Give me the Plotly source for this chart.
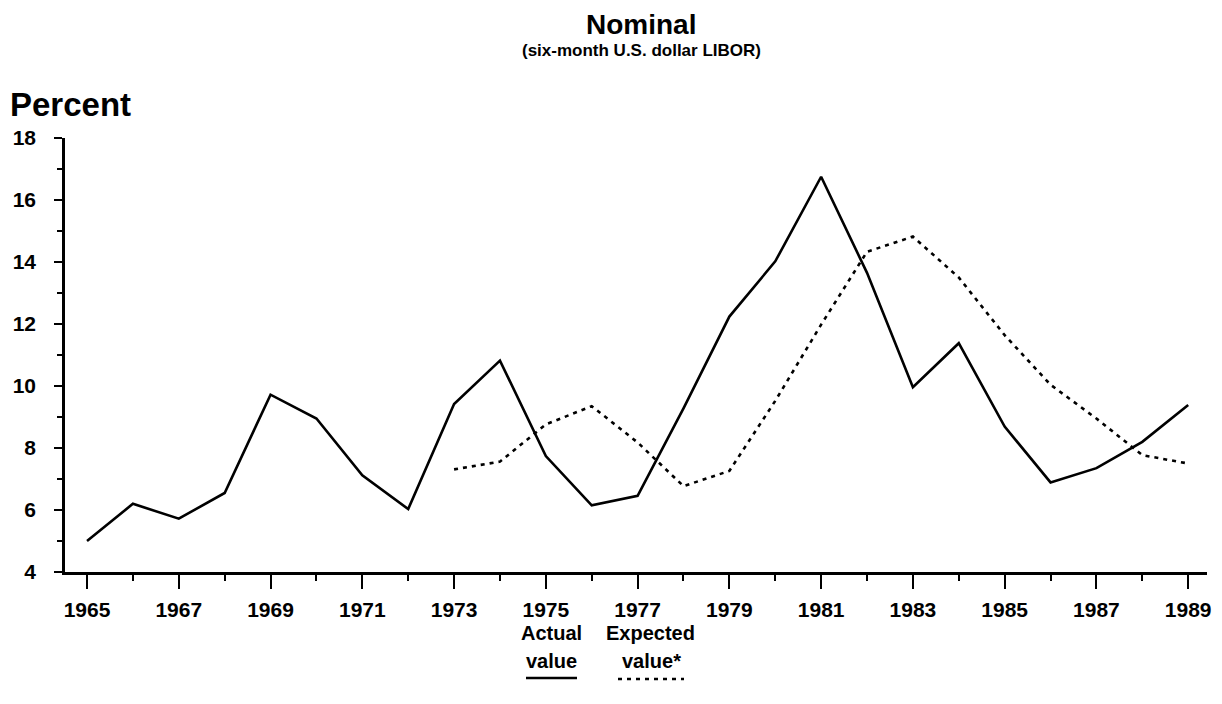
import plotly.graph_objects as go

years = list(range(1965, 1990))
actual = [5.0, 6.2, 5.72, 6.55, 9.72, 8.95, 7.12, 6.03, 9.42, 10.82, 7.74, 6.15,
          6.46, 9.28, 12.24, 14.02, 16.75, 13.65, 9.96, 11.38, 8.69, 6.89, 7.35, 8.2, 9.39]
exp_years = list(range(1973, 1990))
expected = [7.31, 7.56, 8.76, 9.35, 8.18, 6.77, 7.26, 9.52, 11.98, 14.33, 14.82, 13.5,
            11.64, 10.04, 8.95, 7.77, 7.5]

title = "Nominal"
subtitle = "(six-month U.S. dollar LIBOR)"
y_label = "Percent"
x_ticks = list(range(1965, 1990, 2))
y_ticks = list(range(4, 19, 2))

# page body has an 8px margin; work in reference-pixel coordinates and shift
OFF = 8
W, H = 1206, 688
L, R, T, B = 57, 7, 130, 124
pw, ph = W - L - R, H - T - B

def px(x):
    return (x - OFF - L) / pw

def py(y):
    return (H - B - (y - OFF)) / ph

FONT = "Liberation Sans"

fig = go.Figure()
fig.add_trace(go.Scatter(x=years, y=actual, mode="lines",
                         line=dict(color="black", width=2.6), name="Actual value"))
fig.add_trace(go.Scatter(x=exp_years, y=expected, mode="lines",
                         line=dict(color="black", width=2.6, dash="4px,5px"),
                         name="Expected value*"))

fig.update_layout(
    width=W, height=H,
    margin=dict(l=L, r=R, t=T, b=B, pad=0, autoexpand=False),
    paper_bgcolor="white", plot_bgcolor="white",
    showlegend=False,
    font=dict(family=FONT, color="black"),
)

fig.update_xaxes(
    range=[1964.52, 1989.41], tickmode="array", tickvals=x_ticks,
    ticktext=[str(v) for v in x_ticks], automargin=False,
    showgrid=False, zeroline=False, showline=True, linecolor="black", linewidth=2.5,
    ticks="outside", ticklen=14, tickwidth=2, tickcolor="black",
    tickfont=dict(family=FONT, size=21, color="black", weight="bold"),
    ticklabelstandoff=3,
    minor=dict(tickmode="array", tickvals=list(range(1966, 1990, 2)), ticks="outside",
               ticklen=6, tickwidth=2, tickcolor="black"),
)
fig.update_yaxes(
    range=[4, 18], tickmode="array", tickvals=y_ticks,
    ticktext=[str(v) for v in y_ticks], automargin=False,
    showgrid=False, zeroline=False, showline=True, linecolor="black", linewidth=2.5,
    ticks="outside", ticklen=8, tickwidth=2, tickcolor="black",
    tickfont=dict(family=FONT, size=21, color="black", weight="bold"),
    ticklabelstandoff=14,
    minor=dict(tickmode="array", tickvals=list(range(5, 18, 2)), ticks="outside",
               ticklen=5, tickwidth=2, tickcolor="black"),
)

ann = []
ann.append(dict(text=title, x=px(641), y=py(OFF), xref="paper", yref="paper",
                xanchor="center", yanchor="top", showarrow=False, borderpad=0,
                font=dict(size=28, family=FONT, weight="bold")))
ann.append(dict(text=subtitle, x=px(641), y=py(51), xref="paper", yref="paper",
                xanchor="center", yanchor="middle", showarrow=False, borderpad=0,
                font=dict(size=17, family=FONT, weight="bold")))
ann.append(dict(text=y_label, x=px(OFF + 1), y=py(104), xref="paper", yref="paper",
                xanchor="left", yanchor="middle", showarrow=False, borderpad=0,
                font=dict(size=33, family=FONT, weight="bold")))
legend_items = [("Actual", "value", 551, 551), ("Expected", "value*", 650, 651)]
for top, bot, xc1, xc2 in legend_items:
    ann.append(dict(text=top, x=px(xc1), y=py(633), xref="paper", yref="paper",
                    xanchor="center", yanchor="middle", showarrow=False,
                    font=dict(size=20, family=FONT, weight="bold")))
    ann.append(dict(text=bot, x=px(xc2), y=py(661), xref="paper", yref="paper",
                    xanchor="center", yanchor="middle", showarrow=False,
                    font=dict(size=20, family=FONT, weight="bold")))
fig.update_layout(annotations=ann)

fig.add_shape(type="line", xref="paper", yref="paper", x0=px(526), x1=px(577),
              y0=py(678), y1=py(678), line=dict(color="black", width=2.5))
fig.add_shape(type="line", xref="paper", yref="paper", x0=px(618), x1=px(684),
              y0=py(679), y1=py(679), line=dict(color="black", width=2.5, dash="4px,5px"))

fig.write_html("out.html")
